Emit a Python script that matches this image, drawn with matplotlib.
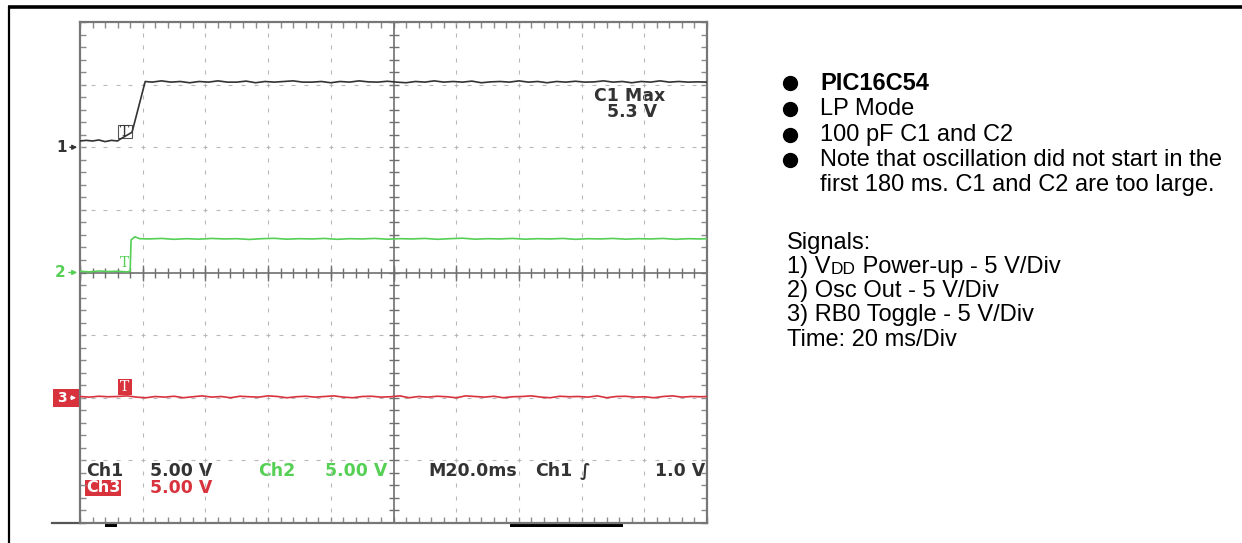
import matplotlib
matplotlib.use("Agg")
import matplotlib.pyplot as plt
import numpy as np

# ---------------- data ----------------
# Channel 1: VDD power-up (volts), time in ms
ch1_t = [0, 2, 4, 6, 8, 10, 12, 12.5, 16.6, 20.8, 23, 26, 29, 32, 35, 38, 41, 44, 47, 50,
         53, 56, 59, 62, 65, 68, 71, 74, 77, 80, 83, 86, 89, 92, 95, 98, 101, 104, 107,
         110, 113, 116, 119, 122, 125, 128, 131, 134, 137, 140, 143, 146, 149, 152, 155,
         158, 161, 164, 167, 170, 173, 176, 179, 182, 185, 188, 191, 194, 197, 200]
ch1_v = [0.5, 0.55, 0.5, 0.58, 0.45, 0.55, 0.5, 0.6, 1.2, 5.25, 5.2, 5.3, 5.2, 5.25, 5.15,
         5.25, 5.2, 5.3, 5.2, 5.2, 5.28, 5.15, 5.25, 5.2, 5.25, 5.3, 5.2, 5.2, 5.25, 5.15,
         5.25, 5.2, 5.3, 5.22, 5.2, 5.27, 5.2, 5.15, 5.25, 5.2, 5.3, 5.2, 5.25, 5.2, 5.28,
         5.15, 5.22, 5.25, 5.2, 5.3, 5.2, 5.25, 5.15, 5.25, 5.2, 5.27, 5.2, 5.22, 5.3,
         5.2, 5.25, 5.15, 5.25, 5.2, 5.3, 5.2, 5.25, 5.2, 5.22, 5.2]
# Channel 2: oscillator output
ch2_t = [0, 3, 6, 9, 12, 15, 16, 16.3, 17.5, 19, 22, 26, 30, 34, 38, 42, 46, 50, 54, 58,
         62, 66, 70, 74, 78, 82, 86, 90, 94, 98, 102, 106, 110, 114, 118, 122, 126, 130,
         134, 138, 142, 146, 150, 154, 158, 162, 166, 170, 174, 178, 182, 186, 190, 194,
         198, 200]
ch2_v = [0.1, 0.05, 0.12, 0.08, 0.1, 0.05, 0.1, 2.6, 2.85, 2.7, 2.68, 2.72, 2.65, 2.7,
         2.66, 2.72, 2.68, 2.7, 2.64, 2.7, 2.73, 2.66, 2.7, 2.68, 2.72, 2.65, 2.7, 2.68,
         2.72, 2.66, 2.7, 2.68, 2.72, 2.65, 2.7, 2.74, 2.66, 2.7, 2.68, 2.72, 2.66, 2.7,
         2.68, 2.72, 2.65, 2.7, 2.68, 2.72, 2.66, 2.7, 2.68, 2.72, 2.65, 2.7, 2.68, 2.7]
# Channel 3: RB0 toggle
ch3_t = [0, 3, 6, 9, 12, 15, 18, 21, 24, 27, 30, 33, 36, 39, 42, 45, 48, 51, 54, 57, 60,
         63, 66, 69, 72, 75, 78, 81, 84, 87, 90, 93, 96, 99, 102, 105, 108, 111, 114, 117,
         120, 123, 126, 129, 132, 135, 138, 141, 144, 147, 150, 153, 156, 159, 162, 165,
         168, 171, 174, 177, 180, 183, 186, 189, 192, 195, 198, 200]
ch3_v = [0.1, 0.05, 0.12, 0.08, 0.1, 0.15, 0.05, 0.0, 0.1, 0.05, 0.12, 0.0, 0.08, 0.15,
         0.05, 0.1, 0.0, 0.12, 0.08, 0.05, 0.15, 0.1, 0.0, 0.08, 0.12, 0.05, 0.1, 0.15,
         0.05, 0.0, 0.1, 0.12, 0.05, 0.08, 0.15, 0.0, 0.1, 0.05, 0.12, 0.08, 0.0, 0.15,
         0.1, 0.05, 0.12, 0.0, 0.08, 0.1, 0.15, 0.05, 0.0, 0.12, 0.08, 0.1, 0.05, 0.15,
         0.0, 0.1, 0.12, 0.05, 0.08, 0.0, 0.1, 0.15, 0.05, 0.1, 0.08, 0.1]

volts_per_div = 5.0
ms_per_div = 20.0
ch_offsets = [2, 0, -2]          # ground positions in divisions
ch_colors = ["#333333", "#55d055", "#d8323c"]

bullets = ["PIC16C54", "LP Mode", "100 pF C1 and C2",
           "Note that oscillation did not start in the",
           "first 180 ms. C1 and C2 are too large."]
signals = ["Signals:", ("1) V", "DD", " Power-up - 5 V/Div"), "2) Osc Out - 5 V/Div",
           "3) RB0 Toggle - 5 V/Div", "Time: 20 ms/Div"]

# ---------------- figure ----------------
W, H = 1242, 543
fig = plt.figure(figsize=(W / 100, H / 100), dpi=100)
bg = fig.add_axes([0, 0, 1, 1])
bg.set_xlim(0, W)
bg.set_ylim(H, 0)
bg.axis("off")

# outer frame
bg.plot([8, W], [6.5, 6.5], color="black", lw=2.6, solid_capstyle="butt")
bg.plot([8.5, 8.5], [6, H], color="black", lw=1.6, solid_capstyle="butt")

# scope area
L, R, T, B = 80, 707, 22, 523
ax = fig.add_axes([L / W, 1 - B / H, (R - L) / W, (B - T) / H])
ax.set_facecolor("none")
ax.set_xlim(0, 10 * ms_per_div)
ax.set_ylim(-4, 4)
grid_c = "#8a8a8a"
for s in ax.spines.values():
    s.set_color("#777777")
    s.set_linewidth(1.6)
ax.set_xticks(np.arange(0, 200.1, 4))
ax.set_yticks(np.arange(-4, 4.01, 0.2))
ax.tick_params(direction="in", length=4, width=1, color=grid_c, top=True, right=True,
               labelbottom=False, labelleft=False)

# dotted grid
ys = np.arange(-4, 4.01, 0.2)
xs = np.arange(0, 200.1, 4)
for k in range(1, 10):
    if k == 5:
        continue
    ax.plot(np.full_like(ys, k * 20), ys, ls="none", marker="|", ms=3, mew=0.8,
            color="#b8b8b8")
for k in range(-3, 4):
    if k == 0:
        continue
    ax.plot(xs, np.full_like(xs, k), ls="none", marker="_", ms=3, mew=0.8, color="#b8b8b8")
# center cross with ticks
ax.axhline(0, color="#707070", lw=1.2)
ax.axvline(100, color="#707070", lw=1.2)
ax.plot(xs, np.zeros_like(xs), ls="none", marker="|", ms=7, mew=1, color="#707070")
ax.plot(np.full_like(ys, 100), ys, ls="none", marker="_", ms=7, mew=1, color="#707070")
ax.plot(np.arange(0, 200.1, 20), np.zeros(11), ls="none", marker="|", ms=12, mew=1,
        color="#707070")

# traces
for t, v, off, c in zip([ch1_t, ch2_t, ch3_t], [ch1_v, ch2_v, ch3_v], ch_offsets, ch_colors):
    ax.plot(t, off + np.array(v) / volts_per_div, color=c, lw=1.2, zorder=5)

def px_y(div):
    return T + (4 - div) / 8 * (B - T)

mono = dict(family="DejaVu Sans", fontweight="bold")
# channel ground markers
bg.text(67, px_y(2), "1", color="#333333", fontsize=11, ha="right", va="center", **mono)
bg.annotate("", xy=(80, px_y(2)), xytext=(67, px_y(2)),
            arrowprops=dict(arrowstyle="-|>", color="#333333", lw=1, mutation_scale=7))
bg.text(66, px_y(0), "2", color="#55d055", fontsize=11, ha="right", va="center", **mono)
bg.annotate("", xy=(80, px_y(0)), xytext=(66, px_y(0)),
            arrowprops=dict(arrowstyle="-|>", color="#55d055", lw=1, mutation_scale=7))
bg.add_patch(plt.Rectangle((53, px_y(-2) - 9), 27, 18, color="#d8323c", lw=0))
bg.text(62, px_y(-2), "3", color="white", fontsize=10, ha="center", va="center", **mono)
bg.annotate("", xy=(79, px_y(-2)), xytext=(68, px_y(-2)),
            arrowprops=dict(arrowstyle="-|>", color="white", lw=1, mutation_scale=6))

# T markers
bg.add_patch(plt.Rectangle((118, 125), 14, 13, fill=False, ec="#555555", lw=0.8))
bg.text(125, 131.5, "T", color="#333333", fontsize=10, ha="center", va="center",
        family="DejaVu Serif")
bg.text(125, 263, "T", color="#55d055", fontsize=10, ha="center", va="center",
        family="DejaVu Serif")
bg.add_patch(plt.Rectangle((118, 379), 14, 16, color="#d8323c", lw=0))
bg.text(125, 387, "T", color="white", fontsize=10, ha="center", va="center",
        family="DejaVu Serif")

# scope readouts
fs = 12.5
bg.text(630, 96, "C1 Max", color="#333333", fontsize=fs, ha="center", va="center", **mono)
bg.text(632, 112, "5.3 V", color="#333333", fontsize=fs, ha="center", va="center", **mono)

bg.text(86, 471, "Ch1", color="#333333", fontsize=fs, ha="left", va="center", **mono)
bg.text(150, 471, "5.00 V", color="#333333", fontsize=fs, ha="left", va="center", **mono)
bg.text(258, 471, "Ch2", color="#55d055", fontsize=fs, ha="left", va="center", **mono)
bg.text(325, 471, "5.00 V", color="#55d055", fontsize=fs, ha="left", va="center", **mono)
bg.text(428, 471, "M20.0ms", color="#333333", fontsize=fs, ha="left", va="center", **mono)
bg.text(535, 471, "Ch1", color="#333333", fontsize=fs, ha="left", va="center", **mono)
bg.text(580, 471, "∫", color="#333333", fontsize=fs, ha="left", va="center", **mono)
bg.text(705, 471, "1.0 V", color="#333333", fontsize=fs, ha="right", va="center", **mono)
bg.text(86, 488, "Ch3", color="white", fontsize=fs - 1, ha="left", va="center",
        bbox=dict(boxstyle="square,pad=0.05", fc="#d8323c", ec="none"), **mono)
bg.text(150, 488, "5.00 V", color="#d8323c", fontsize=fs, ha="left", va="center", **mono)

# bottom bar details
bg.plot([52, 80], [523, 523], color="#555555", lw=1.6)
bg.add_patch(plt.Rectangle((105, 523), 12, 4, color="black", lw=0))
bg.add_patch(plt.Rectangle((510, 523), 113, 4, color="black", lw=0))

# right-hand notes
tf = dict(family="Liberation Sans", fontsize=17, color="black")
yb = [83, 109, 135, 160, 185]
for i, (txt, y) in enumerate(zip(bullets, yb)):
    if i < 4:
        bg.plot([790], [y], marker="o", ms=10, color="black", ls="none")
    bg.text(820, y, txt, va="center", ha="left",
            fontweight="bold" if i == 0 else "normal", **tf)

ys_sig = [242, 267, 291, 315, 339]
rend = fig.canvas.get_renderer()
for s, y in zip(signals, ys_sig):
    yb_ = y + 6.5
    if isinstance(s, tuple):
        x = 787
        sizes = [17, 12.5, 17]
        for part, sz in zip(s, sizes):
            tt = bg.text(x, yb_, part, va="baseline", ha="left",
                         family="Liberation Sans", fontsize=sz, color="black")
            x += tt.get_window_extent(rend).width
    else:
        bg.text(787, yb_, s, va="baseline", ha="left", **tf)

fig.savefig("out.png", dpi=100, facecolor="white")
